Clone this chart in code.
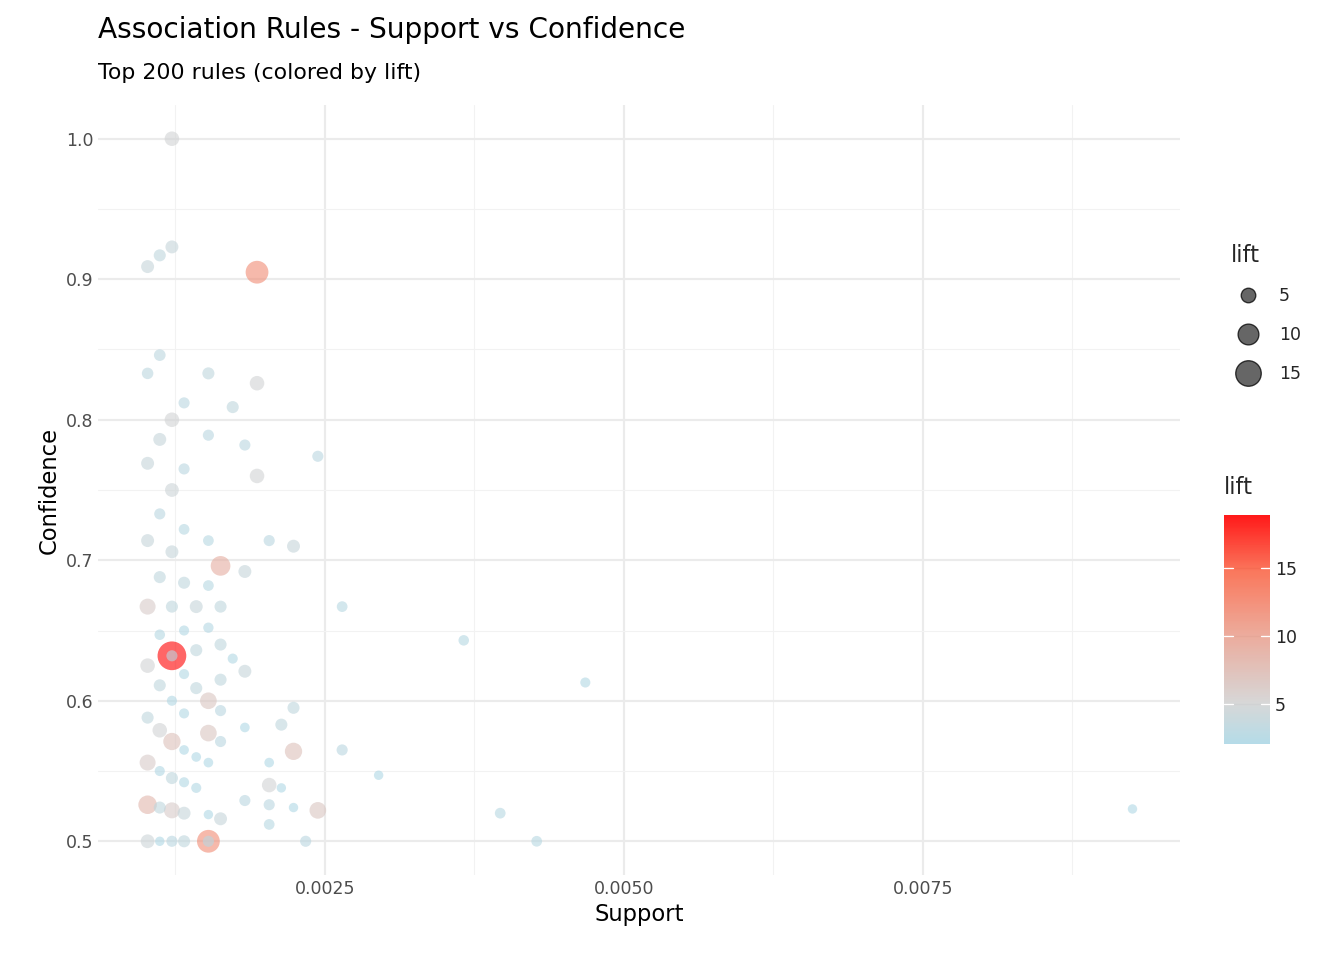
import numpy as np, pandas as pd, matplotlib
matplotlib.use("Agg")
import matplotlib.pyplot as plt, seaborn as sns
from matplotlib.colors import LinearSegmentedColormap, Normalize
from matplotlib.lines import Line2D

N = 9835
counts = [12,12,11,10,19,11,10,15,19,13,17,12,11,15,18,24,10,13,19,12,11,13,10,15,20,22,12,16,11,18,13,15,
          10,12,14,16,26,36,11,13,15,16,14,12,12,17,10,13,18,16,11,14,46,15,12,10,16,22,13,11,18,21,15,12,16,
          13,14,15,22,26,10,11,12,20,29,13,14,20,21,18,10,11,12,13,20,22,24,91,39,16,15,20,10,11,12,13,15,15,23,42]
confidence = [1.0,.923,.917,.909,.905,.846,.833,.833,.826,.812,.809,.8,.786,.789,.782,.774,.769,.765,.76,.75,.733,.722,
              .714,.714,.714,.71,.706,.696,.688,.692,.684,.682,.667,.667,.667,.667,.667,.643,.647,.65,.652,.64,.636,
              .632,.632,.63,.625,.619,.621,.615,.611,.609,.613,.6,.6,.588,.593,.595,.591,.579,.581,.583,.577,.571,.571,
              .565,.56,.556,.564,.565,.556,.55,.545,.556,.547,.542,.538,.54,.538,.529,.526,.524,.522,.52,.526,.524,.522,
              .523,.52,.516,.519,.512,.5,.5,.5,.5,.5,.5,.5,.5]
lift = [5,4,3.5,4,12,3.3,3.2,3.5,5,3,3.5,5,4,3,3,3,4,3,5,4.5,3,2.8,4,2.8,3,4,4,9,3.5,4,3.5,2.8,
        6,3.5,4,3.5,2.8,2.7,2.7,2.5,2.6,3.5,3.5,19,3,2.5,5,2.5,4,3.5,3.5,3.5,2.5,6.5,2.5,3.5,3,3.5,2.5,5,2.3,3.5,6.5,7,3,
        2.3,2.3,2.3,7,3,6,2.5,3.5,2.3,2.2,2.5,2.5,5,2.2,3,8,3.5,6,4,3,2.2,6.5,2.2,2.8,4,2.2,2.8,4.5,2.2,3,3.5,12,3,3,2.8]
df = pd.DataFrame({"support": np.array(counts)/N, "confidence": confidence, "lift": lift})
df = df.sort_values("lift", ascending=False, kind="stable")

sns.set_theme(style="whitegrid")
plt.rcParams['font.family'] = ['DejaVu Sans']
cmap = LinearSegmentedColormap.from_list("lb", [(0, "#ADD8E6"), (0.18, "#D3D3D3"), (0.5, "#EC9E8C"),
                                                (0.75, "#FA6A4C"), (1, "#FF0000")])
norm = Normalize(2.06, 18.9)
def sz(l): return 45 + (np.asarray(l) - 2) / 17 * 420

fig = plt.figure(figsize=(14, 10), dpi=96)
ax = fig.add_axes([98/1344, 1-875/960, (1180-98)/1344, (875-105)/960])
ax.scatter(df.support, df.confidence, s=sz(df.lift), c=df.lift, cmap=cmap, norm=norm, alpha=0.6, linewidths=0)
ax.set_xlim(0.000602, 0.00965); ax.set_ylim(0.476, 1.024)
ax.set_xticks([0.0025, 0.005, 0.0075]); ax.set_xticklabels(["0.0025", "0.0050", "0.0075"])
ax.set_xticks([0.00125, 0.00375, 0.00625, 0.00875], minor=True)
ax.set_yticks([.5,.6,.7,.8,.9,1.0]); ax.set_yticklabels(["0.5","0.6","0.7","0.8","0.9","1.0"])
ax.set_yticks([.55,.65,.75,.85,.95], minor=True)
ax.set_facecolor("white")
for s in ax.spines.values(): s.set_visible(False)
ax.grid(True, which="major", color="#EBEBEB", lw=1.6)
ax.grid(True, which="minor", color="#F2F2F2", lw=0.8)
ax.tick_params(which="both", length=0, labelsize=13, labelcolor="#4D4D4D")
ax.set_xlabel("Support", fontsize=17, color="black"); ax.set_ylabel("Confidence", fontsize=17, color="black")
fig.text(98/1344, 1-30/960, "Association Rules - Support vs Confidence", fontsize=21, va="center", color="black")
fig.text(98/1344, 1-73/960, "Top 200 rules (colored by lift)", fontsize=16.5, va="center", color="black")

handles = [Line2D([], [], ls="", marker="o", markersize=np.sqrt(sz(v)), markerfacecolor="#333333",
                  markeredgecolor="black", alpha=0.75) for v in [5, 10, 15]]
leg = fig.legend(handles, ["5", "10", "15"], title="lift", loc="upper left", bbox_to_anchor=(1215/1344, 1-228/960),
                 frameon=False, fontsize=13, title_fontsize=17, labelspacing=1.2, handletextpad=0.8)
leg._legend_box.align = "left"
cax = fig.add_axes([1224/1344, 1-744/960, 46/1344, (744-515)/960])
sm = plt.cm.ScalarMappable(norm=norm, cmap=cmap)
cb = fig.colorbar(sm, cax=cax, ticks=[5, 10, 15])
cb.outline.set_visible(False); cb.solids.set_alpha(0.9)
cax.tick_params(length=0, labelsize=13)
for t in [5, 10, 15]:
    cax.axhline(t, xmin=0, xmax=0.2, color="white", lw=1); cax.axhline(t, xmin=0.8, xmax=1, color="white", lw=1)
fig.text(1224/1344, 1-488/960, "lift", fontsize=17, va="center")
fig.savefig("out.png", dpi=96, facecolor="white")
